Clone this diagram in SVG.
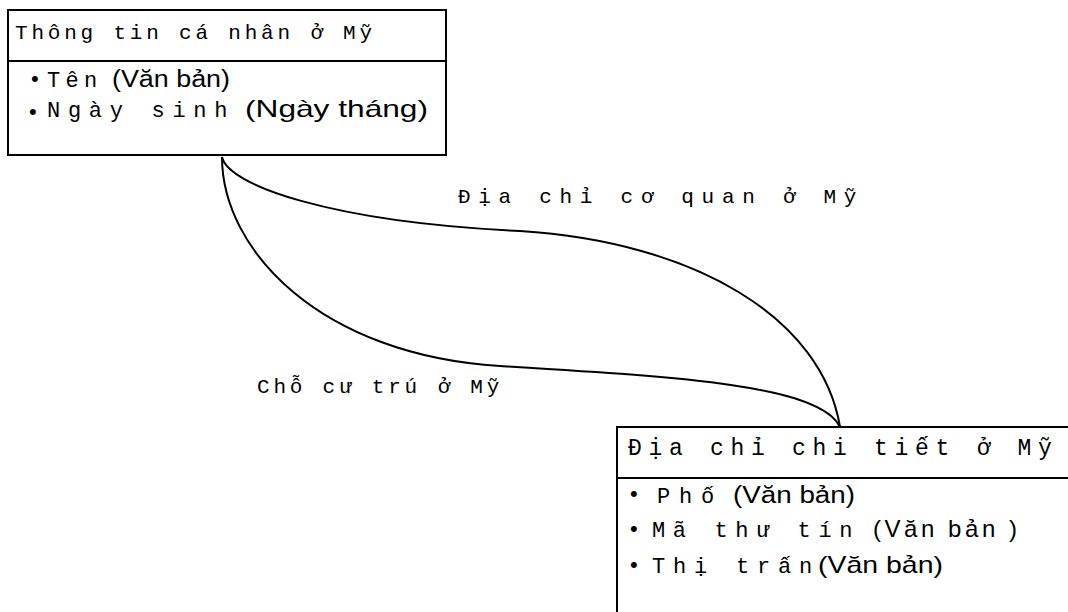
<svg xmlns="http://www.w3.org/2000/svg" width="1068" height="612" viewBox="0 0 1068 612">
  <style>
    .box { fill: #ffffff; stroke: #000000; stroke-width: 2; }
    .rule { stroke: #000000; stroke-width: 2; }
    .edge { fill: none; stroke: #000000; stroke-width: 2; }
    .mono { font-family: "Liberation Mono", "DejaVu Sans Mono", monospace; fill: #000000; }
    .sans { font-family: "Liberation Sans", Arial, sans-serif; fill: #000000; }
    .dot { font-family: "Liberation Sans", Arial, sans-serif; font-size: 22px; fill: #000000; }
  </style>
  <rect width="1068" height="612" fill="#ffffff"/>

  <!-- relationships between the two entities -->
  <g id="connectors">
    <path class="edge" d="M222,157 C228,185 330,222 520,231 C695,242 822,318 840,427"/>
    <path class="edge" d="M222,157 C222,250 320,355 500,366 C680,377 820,385 840,427"/>
    <text class="mono" x="458" y="203" font-size="21" letter-spacing="7.7">Địa chỉ cơ quan ở Mỹ</text>
    <text class="mono" x="257" y="393" font-size="21" letter-spacing="3.8">Chỗ cư trú ở Mỹ</text>
  </g>

  <!-- personal information entity -->
  <g id="node-personal">
    <rect class="box" x="8" y="10" width="438" height="145"/>
    <line class="rule" x1="8" y1="61" x2="446" y2="61"/>
    <text class="mono" x="15" y="39" font-size="21" letter-spacing="3.8">Thông tin cá nhân ở Mỹ</text>
    <text class="dot" x="31" y="86">•</text>
    <text class="mono" x="47" y="87" font-size="22" letter-spacing="5.3">Tên</text>
    <text class="sans" x="112" y="87" font-size="23" textLength="118" lengthAdjust="spacingAndGlyphs">(Văn bản)</text>
    <text class="dot" x="29" y="119">•</text>
    <text class="mono" x="47" y="117" font-size="22" letter-spacing="7.7">Ngày sinh</text>
    <text class="sans" x="245" y="117" font-size="24" textLength="183" lengthAdjust="spacingAndGlyphs">(Ngày tháng)</text>
  </g>

  <!-- detailed address entity -->
  <g id="node-address">
    <rect class="box" x="617" y="427" width="470" height="200"/>
    <line class="rule" x1="617" y1="478" x2="1068" y2="478"/>
    <text class="mono" x="628" y="455" font-size="23" letter-spacing="6.7">Địa chỉ chi tiết ở Mỹ</text>
    <text class="dot" x="630" y="501">•</text>
    <text class="mono" x="657" y="503" font-size="22" letter-spacing="8.8">Phố</text>
    <text class="sans" x="733" y="503" font-size="23" textLength="122" lengthAdjust="spacingAndGlyphs">(Văn bản)</text>
    <text class="dot" x="630" y="536">•</text>
    <text class="mono" x="652" y="537" font-size="22" letter-spacing="7.6">Mã thư tín</text>
    <text class="sans" x="873" y="537" font-size="24" textLength="144" lengthAdjust="spacing">(Văn bản )</text>
    <text class="dot" x="630" y="572">•</text>
    <text class="mono" x="652" y="573" font-size="22" letter-spacing="7.8">Thị trấn</text>
    <text class="sans" x="818" y="573" font-size="24" textLength="125" lengthAdjust="spacingAndGlyphs">(Văn bản)</text>
  </g>
</svg>
